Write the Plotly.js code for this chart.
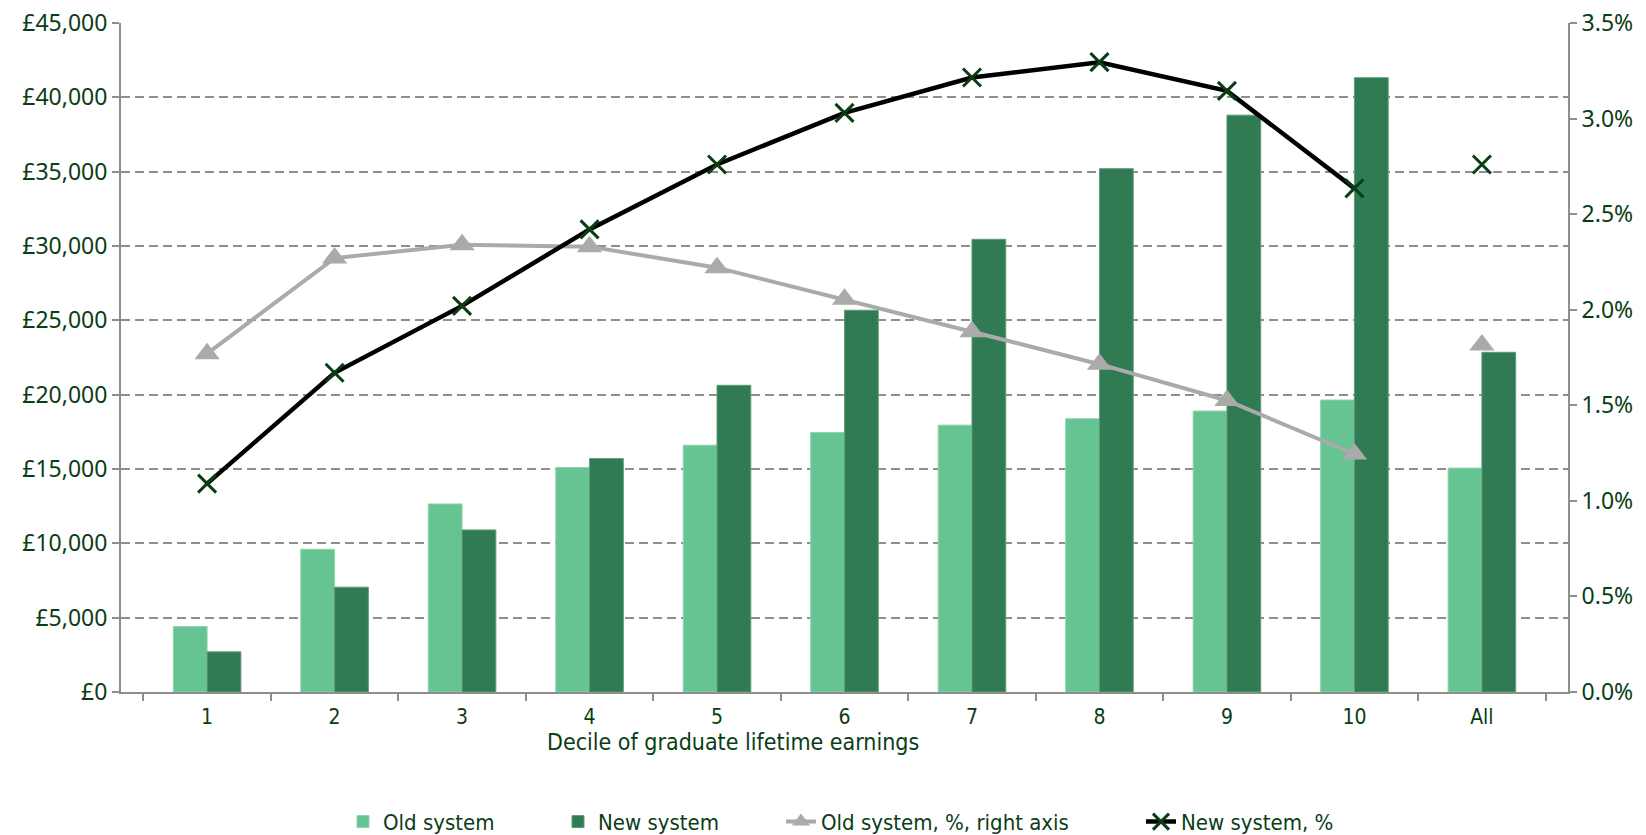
<!DOCTYPE html>
<html>
<head>
<meta charset="utf-8">
<script src="https://cdn.plot.ly/plotly-3.0.1.min.js"></script>
<style>html,body{margin:0;padding:0;background:#fff;}#chart{width:1646px;height:835px;}</style>
</head>
<body>
<div id="chart"></div>
<script>
// Data
const categories = ['1','2','3','4','5','6','7','8','9','10','All'];
const oldSystem = [4400, 9600, 12650, 15100, 16600, 17450, 17950, 18380, 18900, 19640, 15060];
const newSystem = [2700, 7050, 10900, 15700, 20630, 25680, 30450, 35200, 38800, 41320, 22850];
const oldPct = [1.77, 2.27, 2.34, 2.33, 2.22, 2.055, 1.885, 1.715, 1.525, 1.245, 1.815];
const newPct = [1.09, 1.67, 2.02, 2.42, 2.76, 3.03, 3.215, 3.295, 3.145, 2.635, 2.76];
const seriesNames = ['Old system', 'New system', 'Old system, %, right axis', 'New system, %'];
const xTitle = 'Decile of graduate lifetime earnings';

const txt = '#0b3d14';
const condensed = '"Liberation Sans Narrow", "DejaVu Sans Condensed", "Arial Narrow", sans-serif';
const normal = '"Noto Sans", "Liberation Sans", sans-serif';
const nDec = 10;
const axisGrey = '#8c8f8c';

const traces = [
  {type:'bar', name:seriesNames[0], x:categories, y:oldSystem, yaxis:'y', legend:'legend',
   marker:{color:'#66c392', line:{color:'#8fd4ae', width:1}}},
  {type:'bar', name:seriesNames[1], x:categories, y:newSystem, yaxis:'y', legend:'legend2',
   marker:{color:'#307b53', line:{color:'#5e9c7a', width:1}}},
  {type:'scatter', mode:'lines+markers', name:seriesNames[2], legend:'legend3',
   x:categories.slice(0,nDec), y:oldPct.slice(0,nDec), yaxis:'y2',
   line:{color:'#aaaaaa', width:4},
   marker:{symbol:'triangle-up', size:22, color:'#aaaaaa'}},
  {type:'scatter', mode:'lines+markers', name:seriesNames[3], legend:'legend4',
   x:categories.slice(0,nDec), y:newPct.slice(0,nDec), yaxis:'y2',
   line:{color:'#000000', width:4.5},
   marker:{symbol:'x-thin', size:18, color:'#0b3d14', line:{color:'#0b3d14', width:3}}},
  {type:'scatter', mode:'markers', name:seriesNames[2], showlegend:false,
   x:categories.slice(nDec), y:oldPct.slice(nDec), yaxis:'y2',
   marker:{symbol:'triangle-up', size:22, color:'#aaaaaa'}},
  {type:'scatter', mode:'markers', name:seriesNames[3], showlegend:false,
   x:categories.slice(nDec), y:newPct.slice(nDec), yaxis:'y2',
   marker:{symbol:'x-thin', size:18, color:'#0b3d14', line:{color:'#0b3d14', width:3}}}
];

function leg(px) {
  return {orientation:'h', x:(px-121)/1447, xanchor:'left', y:-0.194, yanchor:'middle',
    font:{family:condensed, size:22, color:txt}, itemwidth:30, bgcolor:'rgba(0,0,0,0)'};
}

const layout = {
  width:1646, height:835,
  margin:{l:121, r:78, t:23, b:143, autoexpand:false},
  paper_bgcolor:'#ffffff', plot_bgcolor:'#ffffff',
  barmode:'group', bargap:0.47, bargroupgap:0,
  showlegend:true,
  legend:leg(343), legend2:leg(558), legend3:leg(781), legend4:leg(1141),
  xaxis:{type:'category', tickson:'boundaries', ticks:'outside', ticklen:7, tickwidth:2,
    tickcolor:axisGrey, showline:true, linecolor:axisGrey, linewidth:2,
    showgrid:false, zeroline:false, ticklabelstandoff:5,
    tickfont:{family:condensed, size:21, color:txt}},
  yaxis:{range:[0,45000], dtick:5000, tickformat:',d', tickprefix:'£',
    ticks:'outside', ticklen:7, tickwidth:2, tickcolor:axisGrey,
    showline:true, linecolor:axisGrey, linewidth:2,
    showgrid:true, gridcolor:axisGrey, gridwidth:2, griddash:'9px,5px',
    zeroline:false, fixedrange:true,
    tickfont:{family:normal, size:23, color:txt}},
  yaxis2:{overlaying:'y', side:'right', range:[0,3.5], dtick:0.5, tickformat:'.1f', ticksuffix:'%',
    ticks:'outside', ticklen:7, tickwidth:2, tickcolor:axisGrey,
    showline:true, linecolor:axisGrey, linewidth:2,
    showgrid:false, zeroline:false,
    tickfont:{family:normal, size:23, color:txt}},
  annotations:[{text:xTitle, xref:'paper', yref:'paper', x:0.423, y:-0.075,
    xanchor:'center', yanchor:'middle', showarrow:false,
    font:{family:condensed, size:23, color:txt}}]
};

Plotly.newPlot('chart', traces, layout, {displayModeBar:false, staticPlot:true});
</script>
</body>
</html>
